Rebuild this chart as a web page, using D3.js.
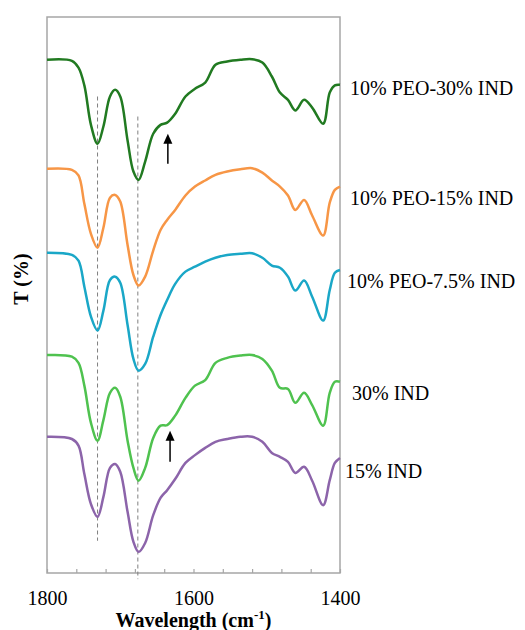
<!DOCTYPE html>
<html>
<head>
<meta charset="utf-8">
<script src="https://cdn.jsdelivr.net/npm/d3@7"></script>
<style>
  html, body { margin: 0; padding: 0; background: #fff; }
  svg { display: block; }
  text { font-family: "Liberation Serif", "Times New Roman", serif; fill: #000; }
</style>
</head>
<body>
<svg id="chart" width="525" height="630"></svg>
<script>
// Wavenumbers (cm^-1) shared by all spectra
const wavenumbers = [1800, 1766, 1757, 1749, 1740, 1731, 1723, 1714, 1707, 1700, 1690, 1682, 1675, 1666, 1655, 1645, 1636, 1625, 1611, 1598, 1584, 1570, 1554, 1536, 1520, 1506, 1493, 1482, 1471, 1461, 1449, 1438, 1423, 1414, 1407, 1400];

// Offset transmittance values (T %)
const peo30ind = [92.3, 92.1, 90.9, 87.7, 80.6, 77.2, 80.3, 85.7, 86.9, 85.7, 77.8, 72.2, 70.7, 74.0, 79.0, 80.6, 81.0, 82.6, 85.7, 87.1, 88.2, 91.4, 92.0, 92.3, 92.4, 91.8, 89.3, 86.4, 85.1, 83.2, 85.1, 83.7, 80.8, 86.4, 87.7, 87.8];
const peo15ind = [72.7, 72.5, 71.5, 66.4, 61.0, 58.5, 62.1, 67.5, 68.0, 66.8, 59.0, 53.6, 51.7, 53.3, 58.0, 61.7, 63.5, 65.3, 67.9, 69.5, 70.6, 71.6, 72.2, 72.6, 72.8, 72.0, 70.6, 69.5, 67.9, 65.3, 67.1, 64.3, 60.7, 66.6, 68.9, 69.5];
const peo75ind = [57.6, 57.2, 56.2, 51.5, 46.1, 43.6, 47.2, 52.7, 53.3, 52.2, 44.6, 38.5, 36.4, 37.6, 42.5, 46.4, 49.1, 52.0, 54.2, 55.1, 56.0, 56.7, 57.2, 57.4, 57.5, 56.7, 55.3, 54.9, 53.3, 50.8, 52.6, 49.7, 45.4, 50.9, 54.0, 54.5];
const ind30 = [39.2, 38.9, 37.8, 33.7, 27.0, 23.8, 27.5, 32.4, 33.3, 31.7, 23.8, 18.9, 16.6, 18.9, 24.3, 26.5, 26.6, 28.3, 31.5, 33.7, 34.7, 37.8, 38.7, 39.1, 39.2, 38.5, 36.4, 33.3, 33.1, 30.6, 32.4, 30.2, 26.5, 32.4, 34.4, 34.4];
const ind15 = [24.5, 24.1, 22.9, 17.8, 12.4, 10.1, 13.7, 18.9, 19.6, 18.2, 11.0, 5.6, 3.8, 5.4, 10.4, 13.5, 14.9, 16.9, 19.8, 21.2, 22.5, 23.6, 24.1, 24.5, 24.5, 23.6, 21.6, 20.9, 20.0, 18.0, 19.1, 16.6, 12.2, 16.7, 19.8, 20.7];

const seriesNames = ["10% PEO-30% IND", "10% PEO-15% IND", "10% PEO-7.5% IND", "30% IND", "15% IND"];
const seriesValues = [peo30ind, peo15ind, peo75ind, ind30, ind15];
const seriesColors = ["#217a21", "#f79646", "#1aa7c7", "#4fc24f", "#8c64aa"];
const labelPos = [[350, 95], [350, 205], [347, 288], [352, 400], [345, 478]];

const xTicks = [1800, 1760, 1720, 1680, 1640, 1600, 1560, 1520, 1480, 1440, 1400];
const xTickLabels = [1800, 1600, 1400];

// Reference (dashed) lines and arrows
const dashedLines = [{wn: 1731, y0: 85.7, y1: 5.8}, {wn: 1676, y0: 82.1, y1: -1.1}];
const arrows = [{wn: 1635, tip: 79.0, tail: 73.6}, {wn: 1632, tip: 25.6, tail: 20.0}];

const L = 47, R = 340, T = 17, B = 573;
const svg = d3.select("#chart");

const x = d3.scaleLinear().domain([1800, 1400]).range([L, R]);
const y = d3.scaleLinear().domain([0, 100]).range([B, T]);

// frame
svg.append("rect")
  .attr("x", L).attr("y", T).attr("width", R - L).attr("height", B - T)
  .attr("fill", "none").attr("stroke", "#a6a6a6").attr("stroke-width", 1.5);

// bottom axis with inside ticks
const axis = d3.axisBottom(x).tickValues(xTicks).tickSize(-4).tickFormat(d => xTickLabels.includes(d) ? d : "");
const gx = svg.append("g").attr("transform", `translate(0,${B})`).call(axis);
gx.select(".domain").remove();
gx.selectAll(".tick line").attr("stroke", "#a6a6a6").attr("stroke-width", 1.2);
gx.selectAll(".tick text")
  .attr("y", 32).attr("dy", 0)
  .style("font-family", '"Liberation Serif", serif').style("font-size", "20px").attr("fill", "#000");

// dashed lines
svg.selectAll(".dash").data(dashedLines).enter().append("line")
  .attr("x1", d => x(d.wn)).attr("x2", d => x(d.wn))
  .attr("y1", d => y(d.y0)).attr("y2", d => y(d.y1))
  .attr("stroke", "#7f7f7f").attr("stroke-width", 1).attr("stroke-dasharray", "4,3");

// spectra
const line = d3.line()
  .x((d, i) => x(wavenumbers[i]))
  .y(d => y(d))
  .curve(d3.curveCatmullRom.alpha(0.5));

seriesValues.forEach((vals, k) => {
  svg.append("path")
    .attr("d", line(vals))
    .attr("fill", "none")
    .attr("stroke", seriesColors[k])
    .attr("stroke-width", 2.5)
    .attr("stroke-linejoin", "round");
});

// arrows
arrows.forEach(a => {
  const ax = x(a.wn), ty = y(a.tip), by = y(a.tail);
  svg.append("line").attr("x1", ax).attr("x2", ax).attr("y1", ty + 8).attr("y2", by)
    .attr("stroke", "#000").attr("stroke-width", 1.5);
  svg.append("path")
    .attr("d", `M${ax},${ty} L${ax - 4.5},${ty + 10} L${ax + 4.5},${ty + 10} Z`)
    .attr("fill", "#000");
});

// series labels
seriesNames.forEach((n, k) => {
  svg.append("text").attr("x", labelPos[k][0]).attr("y", labelPos[k][1])
    .style("font-size", "20px").text(n);
});

// axis titles
const xt = svg.append("text").attr("x", (L + R) / 2).attr("y", 627)
  .attr("text-anchor", "middle").style("font-size", "20px").style("font-weight", "bold");
xt.append("tspan").text("Wavelength (cm");
xt.append("tspan").attr("dy", -8).style("font-size", "13px").text("-1");
xt.append("tspan").attr("dy", 8).text(")");

svg.append("text")
  .attr("transform", `translate(28,${(T + B) / 2 - 16}) rotate(-90)`)
  .attr("text-anchor", "middle").style("font-size", "20px").style("font-weight", "bold")
  .text("T (%)");
</script>
</body>
</html>
